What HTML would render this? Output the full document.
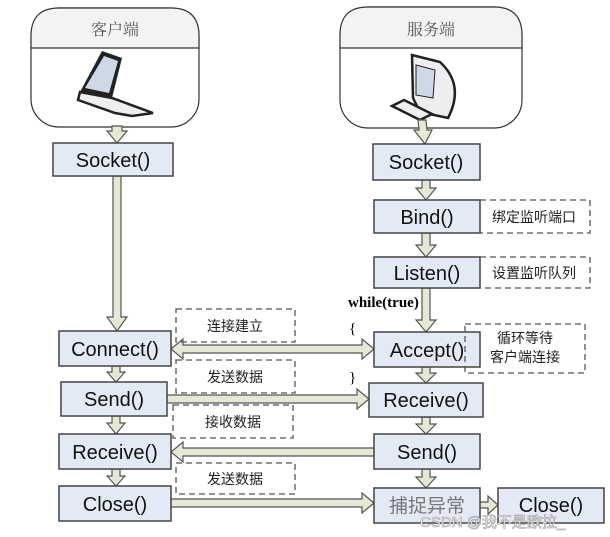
<!DOCTYPE html>
<html><head><meta charset="utf-8"><style>
body{margin:0;background:#fff;width:610px;height:537px;overflow:hidden}
svg{display:block}
.b{fill:#e4eaf5;stroke:#444;stroke-width:1.5}
.t{font-family:"Liberation Sans","Comic Sans MS",sans-serif;font-size:20px;fill:#111;text-anchor:middle}
.c{font-family:"Liberation Sans","Noto Sans CJK SC",sans-serif;font-size:14px;fill:#222;text-anchor:middle}
.d{fill:none;stroke:#555;stroke-width:1.3;stroke-dasharray:6,4}
.a{fill:#e6e8d6;stroke:#555;stroke-width:1.2}
</style></head><body>
<svg width="610" height="537" viewBox="0 0 610 537">
<rect x="31" y="8" width="168" height="119" rx="28" fill="#fff" stroke="#333" stroke-width="1.2"/>
<path d="M59 8H171Q199 8 199 36V48H31V36Q31 8 59 8Z" fill="#f3f3f3" stroke="#333" stroke-width="1.2"/>
<text x="115" y="35" class="c" style="font-size:16px;font-family:'Noto Serif CJK SC',serif;fill:#555">客户端</text>
<rect x="340" y="7" width="182" height="121" rx="28" fill="#fff" stroke="#333" stroke-width="1.2"/>
<path d="M368 7H494Q522 7 522 35V48H340V35Q340 7 368 7Z" fill="#f3f3f3" stroke="#333" stroke-width="1.2"/>
<text x="431" y="35" class="c" style="font-size:16px;font-family:'Noto Serif CJK SC',serif;fill:#555">服务端</text>
<!-- laptop -->
<polygon points="102,51 122,58 112,98 80,92" fill="#222"/>
<polygon points="104,56 118,61 109,93 85,88" fill="#cfd8e6"/>
<polygon points="80,92 112,98 153,113 132,116 115,113 78,100" fill="#eee" stroke="#222" stroke-width="2.5"/>
<!-- desktop -->
<path d="M412 55L440 62Q465 85 448 118L420 112L413 98Z" fill="#eee" stroke="#222" stroke-width="2.5"/>
<polygon points="416,65 435,70 433,98 416,95" fill="#cfd8e6" stroke="#222"/>
<polygon points="392,106 404,100 432,114 420,120" fill="#eee" stroke="#222" stroke-width="2.5"/>
<g class="a">
<polygon points="112,126 122,126 122,131 127,131 117,143 107,131 112,131"/>
<polygon points="418,120 426,120 427,130 432,130 425,144 414,130 419,130"/>
<polygon points="113,176 121,176 121,317 127,317 117,331 107,317 113,317"/>
<polygon points="422,180 430,180 430,188 436,188 426,200 416,188 422,188"/>
<polygon points="422,233 430,233 430,245 436,245 426,257 416,245 422,245"/>
<polygon points="422,288 430,288 430,320 436,320 426,332 416,320 422,320"/>
<polygon points="112,366 120,366 120,372 125,372 116,382 107,372 112,372"/>
<polygon points="112,416 120,416 120,423 125,423 116,434 107,423 112,423"/>
<polygon points="112,469 120,469 120,476 125,476 116,486 107,476 112,476"/>
<polygon points="422,367 430,367 430,373 436,373 426,383 416,373 422,373"/>
<polygon points="422,417 430,417 430,424 436,424 426,434 416,424 422,424"/>
<polygon points="422,469 430,469 430,477 436,477 426,488 416,477 422,477"/>
<polygon points="171,349 183,339 183,345 362,345 362,339 374,349 362,359 362,353 183,353 183,359"/>
<polygon points="167,395 357,395 357,389 369,399 357,409 357,403 167,403"/>
<polygon points="171,452 183,442 183,448 374,448 374,456 183,456 183,462"/>
<polygon points="171,499 362,499 362,493 374,503 362,513 362,507 171,507"/>
<polygon points="480,502 488,502 488,496 498,505 488,514 488,508 480,508"/>
</g>
<rect x="53" y="143" width="120" height="33" class="b"/><text x="113" y="167" class="t">Socket()</text>
<rect x="373" y="144" width="107" height="36" class="b"/><text x="426" y="169" class="t">Socket()</text>
<rect x="374" y="200" width="106" height="33" class="b"/><text x="427" y="224" class="t">Bind()</text>
<rect x="374" y="257" width="106" height="31" class="b"/><text x="427" y="280" class="t">Listen()</text>
<rect x="59" y="331" width="112" height="35" class="b"/><text x="115" y="356" class="t">Connect()</text>
<rect x="374" y="332" width="106" height="35" class="b"/><text x="427" y="357" class="t">Accept()</text>
<rect x="61" y="382" width="106" height="34" class="b"/><text x="114" y="406" class="t">Send()</text>
<rect x="369" y="383" width="114" height="34" class="b"/><text x="426" y="407" class="t">Receive()</text>
<rect x="59" y="434" width="112" height="35" class="b"/><text x="115" y="459" class="t">Receive()</text>
<rect x="374" y="434" width="106" height="35" class="b"/><text x="427" y="459" class="t">Send()</text>
<rect x="59" y="486" width="112" height="35" class="b"/><text x="115" y="511" class="t">Close()</text>
<rect x="374" y="488" width="106" height="35" class="b"/><text x="427" y="512" class="c" style="font-size:19px;fill:#777">捕捉异常</text>
<rect x="498" y="488" width="106" height="35" class="b"/><text x="551" y="512" class="t">Close()</text>
<rect x="480" y="200" width="110" height="33" class="d"/><text x="534" y="222" class="c">绑定监听端口</text>
<rect x="480" y="257" width="110" height="31" class="d"/><text x="534" y="278" class="c">设置监听队列</text>
<rect x="465" y="324" width="120" height="49" class="d"/><text x="525" y="343" class="c">循环等待</text><text x="525" y="362" class="c">客户端连接</text>
<rect x="176" y="309" width="119" height="33" class="d"/><text x="235" y="331" class="c">连接建立</text>
<rect x="176" y="360" width="119" height="33" class="d"/><text x="235" y="382" class="c">发送数据</text>
<rect x="173" y="405" width="120" height="33" class="d"/><text x="233" y="427" class="c">接收数据</text>
<rect x="176" y="463" width="119" height="31" class="d"/><text x="235" y="484" class="c">发送数据</text>
<text x="348" y="307" style="font-family:'Liberation Serif',serif;font-weight:bold;font-size:15px">while(true)</text>
<text x="349" y="333" style="font-family:'Liberation Serif',serif;font-size:15px">{</text>
<text x="349" y="382" style="font-family:'Liberation Serif',serif;font-size:15px">}</text>
<text x="420" y="527" style="font-family:'Liberation Sans','Noto Sans CJK SC',sans-serif;font-size:15px;fill:#fff;stroke:#999;stroke-width:0.6">CSDN @我不是欧拉_</text>
</svg>
</body></html>
